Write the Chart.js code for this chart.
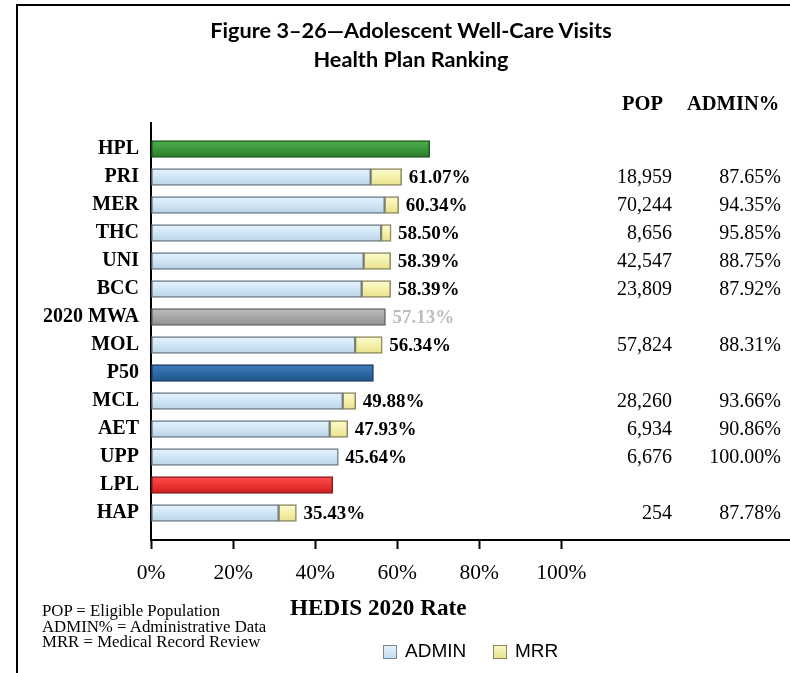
<!DOCTYPE html>
<html>
<head>
<meta charset="utf-8">
<script src="https://cdn.jsdelivr.net/npm/chart.js@4.4.1/dist/chart.umd.min.js"></script>
<style>
  html, body { margin: 0; padding: 0; background: #fff; }
  body { width: 790px; height: 673px; position: relative; overflow: hidden; }
  #frame { position: absolute; left: 16px; top: 4px; width: 800px; height: 700px; border: 2px solid #000; box-sizing: border-box; }
  #wrap { position: absolute; left: 0; top: 0; width: 790px; height: 673px; }
  .t { position: absolute; white-space: nowrap; color: #000; }
  .title { font-family: Lato, "Open Sans", sans-serif; font-weight: bold; font-size: 20px; left: 0; width: 822px; text-align: center; transform: scaleX(1.085); transform-origin: 411px 50%; }
  .hdr { font-family: "Liberation Serif", "Times New Roman", serif; font-weight: bold; font-size: 20.5px; }
  .note { font-family: "Liberation Serif", "Times New Roman", serif; font-size: 16.8px; line-height: 15.5px; left: 42px; top: 603px; }
  .xt { font-family: "Liberation Serif", "Times New Roman", serif; font-weight: bold; font-size: 23.2px; }
  .leg { font-family: "Liberation Sans", Arial, sans-serif; font-size: 19px; }
  .box { position: absolute; width: 12px; height: 12px; border: 1px solid #7a8590; }
</style>
</head>
<body>
<div id="frame"></div>
<div id="wrap"><canvas id="c" width="790" height="673"></canvas></div>
<div class="t title" style="top:18px;">Figure 3–26—Adolescent Well-Care Visits</div>
<div class="t title" style="top:47px;">Health Plan Ranking</div>
<div class="t hdr" style="left:622px; top:92px;">POP</div>
<div class="t hdr" style="left:687px; top:92px;">ADMIN%</div>
<div class="t xt" style="left:290px; top:594px;">HEDIS 2020 Rate</div>
<div class="t note">POP = Eligible Population<br>ADMIN% = Administrative Data<br>MRR = Medical Record Review</div>
<div class="box" style="left:383px; top:645px; background: linear-gradient(#e4f1fb,#c2dcef);"></div>
<div class="t leg" style="left:405px; top:640px;">ADMIN</div>
<div class="box" style="left:493px; top:645px; background: linear-gradient(#fbf8c8,#e8e38a); border-color:#8a8760;"></div>
<div class="t leg" style="left:515px; top:640px;">MRR</div>
<script>
// ---- data ----
const categories = ["HPL","PRI","MER","THC","UNI","BCC","2020 MWA","MOL","P50","MCL","AET","UPP","LPL","HAP"];
// overall rate (HEDIS 2020), null for benchmark rows
const rateLabels = [null,"61.07%","60.34%","58.50%","58.39%","58.39%","57.13%","56.34%",null,"49.88%","47.93%","45.64%",null,"35.43%"];
// admin portion of each plan bar
const adminValues = [null,53.53,56.93,56.07,51.82,51.34,null,49.75,null,46.72,43.55,45.64,null,31.10];
// MRR portion of each plan bar
const mrrValues   = [null,7.54,3.41,2.43,6.57,7.05,null,6.59,null,3.16,4.38,0,null,4.33];
// benchmark bars: HPL, 2020 MWA, P50, LPL
const benchValues = [67.9,null,null,null,null,null,57.13,null,54.2,null,null,null,44.3,null];
const benchColors = {0:["#4fae4f","#3b9a3b","#2c7a2c"], 6:["#bdbdbd","#a9a9a9","#8f8f8f"], 8:["#3f7fbd","#2f6ba6","#22558a"], 12:["#ff5050","#ee3535","#cc2020"]};
const benchBorders = {0:"#1e5a1e", 6:"#666666", 8:"#1a3e66", 12:"#8a1c1c"};
const popValues   = [null,"18,959","70,244","8,656","42,547","23,809",null,"57,824",null,"28,260","6,934","6,676",null,"254"];
const adminPct    = [null,"87.65%","94.35%","95.85%","88.75%","87.92%",null,"88.31%",null,"93.66%","90.86%","100.00%",null,"87.78%"];
const xTicks = [0,20,40,60,80,100];

const toPts = arr => arr.map((v,i)=> v===null ? null : {x:v, y:i}).filter(p=>p!==null);

function gradFor(context, cols){
  const chart = context.chart;
  const ys = chart.scales && chart.scales.y;
  const raw = context.raw;
  if(!chart.chartArea || !ys || !raw) return cols[1];
  const cy = ys.getPixelForValue(raw.y);
  if(!isFinite(cy)) return cols[1];
  const g = chart.ctx.createLinearGradient(0, cy - 8.5, 0, cy + 8.5);
  g.addColorStop(0, cols[0]); g.addColorStop(0.45, cols[1]); g.addColorStop(1, cols[2]);
  return g;
}

const sidePlugin = {
  id: 'side',
  afterDatasetsDraw(chart){
    const {ctx, scales:{x, y}} = chart;
    ctx.save();
    ctx.textBaseline = 'middle';
    ctx.font = 'bold 19px "Liberation Serif", "Times New Roman", serif';
    ctx.textAlign = 'left';
    categories.forEach((c,i)=>{
      if(!rateLabels[i]) return;
      const total = parseFloat(rateLabels[i]);
      ctx.fillStyle = (i===6) ? '#bdbdbd' : '#000';
      ctx.fillText(rateLabels[i], x.getPixelForValue(total) + 7, y.getPixelForValue(i) + 1);
    });
    ctx.font = '20px "Liberation Serif", "Times New Roman", serif';
    ctx.textAlign = 'right';
    ctx.fillStyle = '#000';
    categories.forEach((c,i)=>{
      const py = y.getPixelForValue(i) + 1;
      if(popValues[i]) ctx.fillText(popValues[i], 672, py);
      if(adminPct[i]) ctx.fillText(adminPct[i], 781, py);
    });
    ctx.restore();
  }
};

new Chart(document.getElementById('c'), {
  type: 'bar',
  data: {
    datasets: [
      { label: 'ADMIN', data: toPts(adminValues), stack: 's',
        backgroundColor: c => gradFor(c, ['#e6f2fb','#d3e8f7','#b9d3e6']), borderColor: '#6f7c87', borderWidth: 1.5, borderSkipped: false },
      { label: 'MRR', data: toPts(mrrValues), stack: 's',
        backgroundColor: c => gradFor(c, ['#fcfad2','#f6f2ad','#e6e08a']), borderColor: '#8a875c', borderWidth: 1.5, borderSkipped: false },
      { label: 'Benchmark', data: toPts(benchValues), stack: 's',
        backgroundColor: c => { const i = c.raw ? c.raw.y : 0; return gradFor(c, benchColors[i] || ['#999','#999','#999']); },
        borderColor: c => { const i = c.raw ? c.raw.y : 0; return benchBorders[i] || '#555'; },
        borderWidth: 1.5, borderSkipped: false }
    ]
  },
  options: {
    responsive: false,
    animation: false,
    indexAxis: 'y',
    layout: { padding: { top: 123, left: 0, right: 0, bottom: 0 } },
    datasets: { bar: { barThickness: 17 } },
    plugins: { legend: { display: false }, title: { display: false }, tooltip: { enabled: false } },
    scales: {
      x: {
        type: 'linear', stacked: true, min: 0, max: 155.7, offset: false,
        afterFit: s => { s.height = 133; },
        afterBuildTicks: s => { s.ticks = xTicks.map(v => ({value: v})); },
        grid: { drawOnChartArea: false, drawTicks: true, tickLength: 9, tickColor: '#000', tickWidth: 2 },
        border: { display: true, color: '#000', width: 2 },
        ticks: { color: '#000', padding: 11, maxRotation: 0, autoSkip: false,
          font: { family: '"Liberation Serif", "Times New Roman", serif', size: 21.5 },
          callback: v => v + '%' }
      },
      y: {
        type: 'linear', stacked: true, reverse: true, min: -0.929, max: 13.964, offset: false,
        afterFit: s => { s.width = 151; },
        afterBuildTicks: s => { s.ticks = categories.map((c,i) => ({value: i})); },
        grid: { drawOnChartArea: false, drawTicks: false, offset: false },
        border: { display: true, color: '#000', width: 2 },
        ticks: { color: '#000', padding: 12, autoSkip: false,
          font: { family: '"Liberation Serif", "Times New Roman", serif', size: 20, weight: 'bold' },
          callback: v => categories[v] }
      }
    }
  },
  plugins: [sidePlugin]
});
</script>
</body>
</html>
